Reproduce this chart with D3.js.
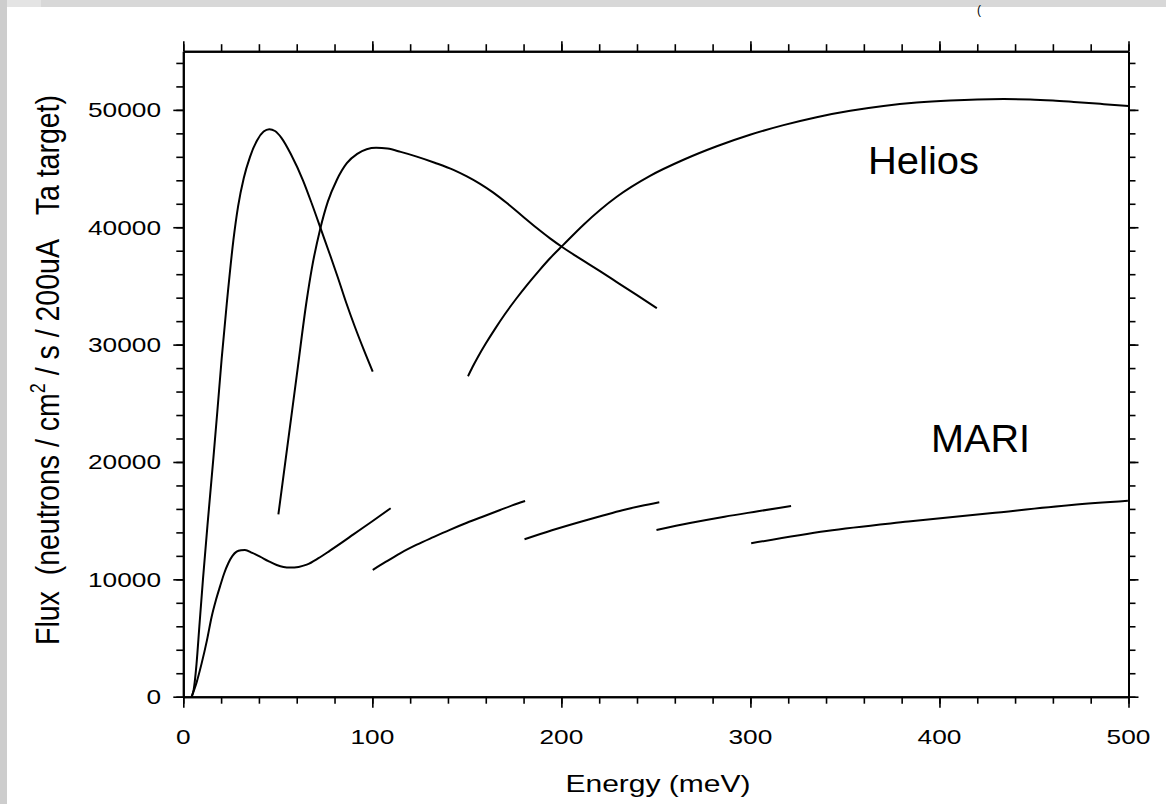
<!DOCTYPE html>
<html><head><meta charset="utf-8">
<script src="https://cdn.jsdelivr.net/npm/d3@7"></script>
<style>
body{margin:0;background:#fff}
svg{display:block}
text{font-family:"Liberation Sans",Arial,Helvetica,sans-serif;fill:#000}
</style>
</head><body>
<svg id="chart" width="1166" height="804"></svg>
<script>
// ---------- data ----------
const xTickValues = [0, 100, 200, 300, 400, 500];
const yTickValues = [0, 10000, 20000, 30000, 40000, 50000];
const xTickLabels = ["0", "100", "200", "300", "400", "500"];
const yTickLabels = ["0", "10000", "20000", "30000", "40000", "50000"];

// Helios curves (energy in meV, flux)
const heliosA_E = [4.5, 5.5, 7, 8.5, 10.4, 13, 15.9, 18, 20.3, 23, 26.5, 29, 32, 35.3, 39, 42.5, 45.5, 48.5, 52, 57, 63.3, 68, 73.3, 77.5, 81.8, 86, 90.8, 95.5, 100.2];
const heliosA_F = [0, 600, 2800, 6000, 10000, 15000, 20300, 24300, 28800, 33500, 38900, 41800, 44200, 46000, 47400, 48150, 48350, 48200, 47600, 46200, 44000, 42000, 39600, 37700, 35700, 33650, 31500, 29550, 27700];

const heliosB_E = [50.3, 55, 60, 65.3, 68, 72.3, 76.5, 81.2, 86.5, 92, 97, 102, 108, 115, 123.5, 133, 142.9, 150, 157, 164, 171, 179, 187, 194, 201, 211.6, 220, 229.3, 240, 250.5];
const heliosB_F = [15540, 21260, 27350, 33800, 36500, 39770, 42200, 44030, 45460, 46250, 46650, 46770, 46700, 46420, 46020, 45500, 44890, 44330, 43700, 42950, 42080, 41000, 39930, 39050, 38250, 37160, 36300, 35330, 34210, 33100];

const heliosC_E = [150.6, 153, 156, 160, 165, 170, 176, 182, 188, 194, 201, 211.6, 229.3, 246.9, 264.6, 282.2, 299.8, 317.5, 335, 352.8, 370.4, 388, 405.7, 420, 434, 448, 460, 471, 487, 500];
const heliosC_F = [27300, 28090, 28990, 30090, 31365, 32565, 33885, 35115, 36267, 37359, 38500, 40200, 42600, 44380, 45750, 46900, 47880, 48700, 49380, 49920, 50330, 50620, 50800, 50890, 50920, 50890, 50800, 50680, 50490, 50330];

// MARI curves
const mariA_E = [4.4, 7, 9.7, 12.5, 15, 17.2, 19.4, 21.6, 23.8, 26, 28.2, 30.5, 32.6, 36.5, 40.6, 45, 49.4, 53, 56.5, 61, 65.3, 71.5, 77.6, 84, 90, 100, 109.7];
const mariA_F = [0, 1200, 2840, 4800, 6820, 8200, 9380, 10500, 11370, 12000, 12360, 12480, 12500, 12250, 11930, 11550, 11220, 11050, 11000, 11060, 11250, 11800, 12450, 13150, 13830, 14950, 16060];

const mariB_E = [100.2, 107, 114.7, 123.5, 132.3, 141, 150, 159, 167.6, 174, 180.8];
const mariB_F = [10800, 11480, 12220, 12950, 13600, 14220, 14820, 15380, 15910, 16300, 16680];

const mariC_E = [180.5, 195, 210.7, 222, 232.3, 242, 251.8];
const mariC_F = [13410, 14180, 14930, 15440, 15890, 16250, 16570];

const mariD_E = [250.3, 268, 286.3, 304, 321.5];
const mariD_F = [14210, 14800, 15340, 15800, 16250];

const mariE_E = [300.4, 340.3, 383.5, 426.7, 469.9, 499.7];
const mariE_F = [13070, 14120, 14920, 15630, 16340, 16700];

const seriesLabels = ["Helios", "MARI"];
const xTitle = "Energy (meV)";

// ---------- layout ----------
const svg = d3.select("#chart");
const W = 1166, H = 804;
const x = d3.scaleLinear().domain([0, 500]).range([183.3, 1128.5]);
const y = d3.scaleLinear().domain([0, 55000]).range([696.7, 51.2]);
const SX = 1.25; // horizontal stretch of the original raster text

svg.append("rect").attr("width", W).attr("height", H).attr("fill", "#fff");
svg.append("rect").attr("x", 0).attr("y", 0).attr("width", W).attr("height", 7).attr("fill", "#d8d8d8");
svg.append("rect").attr("x", 0).attr("y", 0).attr("width", 7).attr("height", H).attr("fill", "#cdcdcd");
svg.append("rect").attr("x", 7).attr("y", 0).attr("width", 34).attr("height", 7).attr("fill", "#e4e4e4");
svg.append("text").attr("x", 977).attr("y", 14).attr("font-size", 12).text("(");

// ---------- axes (frame) ----------
const minorX = d3.range(0, 501, 20);
const minorY = d3.range(0, 55001, 2000);

function styleAxis(g) {
  g.selectAll("path.domain").attr("stroke", "#000").attr("stroke-width", 2);
  g.selectAll("line").attr("stroke", "#000").attr("stroke-width", 1.6);
  g.selectAll("text").remove();
}
svg.append("g").attr("transform", `translate(0,${y(0)})`)
  .call(d3.axisBottom(x).tickValues(minorX).tickSize(7).tickSizeOuter(0)).call(styleAxis);
svg.append("g").attr("transform", `translate(0,${y(0)})`)
  .call(d3.axisBottom(x).tickValues(xTickValues).tickSize(11).tickSizeOuter(0)).call(styleAxis);
svg.append("g").attr("transform", `translate(0,${y(55000)})`)
  .call(d3.axisTop(x).tickValues(minorX).tickSize(7).tickSizeOuter(0)).call(styleAxis);
svg.append("g").attr("transform", `translate(0,${y(55000)})`)
  .call(d3.axisTop(x).tickValues(xTickValues).tickSize(10).tickSizeOuter(0)).call(styleAxis);
svg.append("g").attr("transform", `translate(${x(0)},0)`)
  .call(d3.axisLeft(y).tickValues(minorY).tickSize(7).tickSizeOuter(0)).call(styleAxis);
svg.append("g").attr("transform", `translate(${x(0)},0)`)
  .call(d3.axisLeft(y).tickValues(yTickValues).tickSize(10).tickSizeOuter(0)).call(styleAxis);
svg.append("g").attr("transform", `translate(${x(500)},0)`)
  .call(d3.axisRight(y).tickValues(minorY).tickSize(7).tickSizeOuter(0)).call(styleAxis);
svg.append("g").attr("transform", `translate(${x(500)},0)`)
  .call(d3.axisRight(y).tickValues(yTickValues).tickSize(10).tickSizeOuter(0)).call(styleAxis);

// ---------- tick labels ----------
xTickValues.forEach((v, i) => {
  svg.append("text")
    .attr("transform", `translate(${x(v)},744) scale(${SX},1)`)
    .attr("text-anchor", "middle").attr("font-size", 21)
    .text(xTickLabels[i]);
});
yTickValues.forEach((v, i) => {
  svg.append("text")
    .attr("transform", `translate(161,${y(v) + 7.5}) scale(${SX},1)`)
    .attr("text-anchor", "end").attr("font-size", 21)
    .text(yTickLabels[i]);
});

// ---------- titles ----------
svg.append("text")
  .attr("transform", `translate(658,792) scale(${SX},1)`)
  .attr("text-anchor", "middle").attr("font-size", 24)
  .text(xTitle);

const yt = svg.append("text")
  .attr("transform", `translate(59,370) scale(${SX},1) rotate(-90)`)
  .attr("text-anchor", "middle").attr("font-size", 27)
  .attr("textLength", 550).attr("lengthAdjust", "spacingAndGlyphs");
yt.append("tspan").text("Flux\u00a0\u00a0(neutrons / cm");
yt.append("tspan").attr("font-size", 17).attr("dy", -11).text("2");
yt.append("tspan").attr("dy", 11).text(" / s / 200uA\u00a0\u00a0\u00a0Ta target)");

// ---------- curves ----------
const lineGen = d3.line().x(d => x(d[0])).y(d => y(d[1])).curve(d3.curveMonotoneX);
const curves = [
  [heliosA_E, heliosA_F], [heliosB_E, heliosB_F], [heliosC_E, heliosC_F],
  [mariA_E, mariA_F], [mariB_E, mariB_F], [mariC_E, mariC_F], [mariD_E, mariD_F], [mariE_E, mariE_F]
];
curves.forEach(([E, F]) => {
  svg.append("path")
    .datum(E.map((e, i) => [e, F[i]]))
    .attr("d", lineGen)
    .attr("fill", "none").attr("stroke", "#000").attr("stroke-width", 2);
});

// ---------- series labels ----------
svg.append("text").attr("x", 868).attr("y", 174).attr("font-size", 38)
  .attr("textLength", 111).attr("lengthAdjust", "spacingAndGlyphs").text(seriesLabels[0]);
svg.append("text").attr("x", 931).attr("y", 452).attr("font-size", 38)
  .attr("textLength", 99).attr("lengthAdjust", "spacingAndGlyphs").text(seriesLabels[1]);
</script>
</body></html>
